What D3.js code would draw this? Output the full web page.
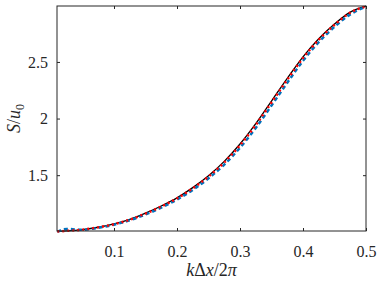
<!DOCTYPE html>
<html>
<head>
<meta charset="utf-8">
<script src="https://cdn.jsdelivr.net/npm/d3@7"></script>
<style>
body { margin: 0; background: #fff; }
svg text { font-family: "Liberation Serif", "Times New Roman", serif; fill: #262626; }
</style>
</head>
<body>
<svg id="chart" width="379" height="284" font-family="Liberation Serif"></svg>
<script>
// wavenumber k dx / 2 pi
var kvals = [0.01, 0.025, 0.05, 0.075, 0.1, 0.125, 0.15, 0.175, 0.2, 0.225, 0.25, 0.275, 0.3, 0.325, 0.35, 0.375, 0.4, 0.425, 0.45, 0.475, 0.5];
// exact (black solid)
var exact = [1.003, 1.008, 1.02, 1.04, 1.069, 1.11, 1.165, 1.228, 1.3, 1.39, 1.495, 1.622, 1.775, 1.955, 2.155, 2.355, 2.545, 2.705, 2.835, 2.94, 2.993];
// red dotted
var redS = [1.003, 1.008, 1.019, 1.039, 1.067, 1.107, 1.161, 1.223, 1.295, 1.384, 1.488, 1.613, 1.764, 1.943, 2.142, 2.343, 2.534, 2.696, 2.828, 2.935, 2.991];
// blue dashed
var blueS = [1.0, 1.025, 1.017, 1.036, 1.063, 1.102, 1.153, 1.213, 1.285, 1.37, 1.472, 1.594, 1.742, 1.917, 2.115, 2.316, 2.51, 2.675, 2.81, 2.92, 2.988];
var xticks = [0.1, 0.2, 0.3, 0.4, 0.5];
var yticks = [1.5, 2, 2.5];

var svg = d3.select("#chart"),
    pL = 57, pR = 366, pT = 6, pB = 231;

var x = d3.scaleLinear().domain([0.0095, 0.5]).range([pL, pR]);
var y = d3.scaleLinear().domain([1.007, 2.994]).range([pB, pT]);

var line = function(vals) {
    return d3.line()
        .x(function(d, i) { return x(kvals[i]); })
        .y(function(d) { return y(d); })
        .curve(d3.curveMonotoneX)(vals);
};

var plot = svg.append("g");
plot.append("path").attr("d", line(exact))
    .attr("fill", "none").attr("stroke", "#000").attr("stroke-width", 1.3);
plot.append("path").attr("d", line(blueS))
    .attr("fill", "none").attr("stroke", "#0072BD").attr("stroke-width", 2.5)
    .attr("stroke-dasharray", "4,3");
plot.append("path").attr("d", line(redS))
    .attr("fill", "none").attr("stroke", "#FF0000").attr("stroke-width", 2.5)
    .attr("stroke-dasharray", "2,3");

// axes, ticks inward on all four sides
var axisColor = "#262626";
function styleAxis(g) {
    g.attr("font-family", null);
    g.select(".domain").remove();
    g.selectAll("line").attr("stroke", axisColor);
    g.selectAll("text").attr("font-size", "16px").attr("fill", axisColor);
}
svg.append("g").attr("transform", "translate(0," + pB + ")")
    .call(d3.axisBottom(x).tickValues(xticks).tickSize(-3).tickPadding(15).tickFormat(d3.format("")))
    .call(styleAxis);
svg.append("g").attr("transform", "translate(0," + pT + ")")
    .call(d3.axisTop(x).tickValues(xticks).tickSize(-3).tickFormat(""))
    .call(styleAxis);
svg.append("g").attr("transform", "translate(" + pL + ",0)")
    .call(d3.axisLeft(y).tickValues(yticks).tickSize(-3).tickPadding(9).tickFormat(d3.format("")))
    .call(styleAxis);
svg.append("g").attr("transform", "translate(" + pR + ",0)")
    .call(d3.axisRight(y).tickValues(yticks).tickSize(-3).tickFormat(""))
    .call(styleAxis);

svg.append("rect").attr("x", pL).attr("y", pT)
    .attr("width", pR - pL).attr("height", pB - pT)
    .attr("fill", "none").attr("stroke", axisColor).attr("stroke-width", 1);

// axis labels
var xl = svg.append("text").attr("x", (pL + pR) / 2).attr("y", 276)
    .attr("text-anchor", "middle").attr("font-size", "18px");
xl.append("tspan").attr("font-style", "italic").text("k");
xl.append("tspan").text("Δ");
xl.append("tspan").attr("font-style", "italic").text("x");
xl.append("tspan").text("/2");
xl.append("tspan").attr("font-style", "italic").text("π");

var yl = svg.append("text").attr("transform", "translate(20," + ((pT + pB) / 2) + ") rotate(-90)")
    .attr("text-anchor", "middle").attr("font-size", "18px");
yl.append("tspan").attr("font-style", "italic").text("S");
yl.append("tspan").text("/");
yl.append("tspan").attr("font-style", "italic").text("u");
yl.append("tspan").attr("font-size", "12px").attr("dy", 4).text("0");
</script>
</body>
</html>
